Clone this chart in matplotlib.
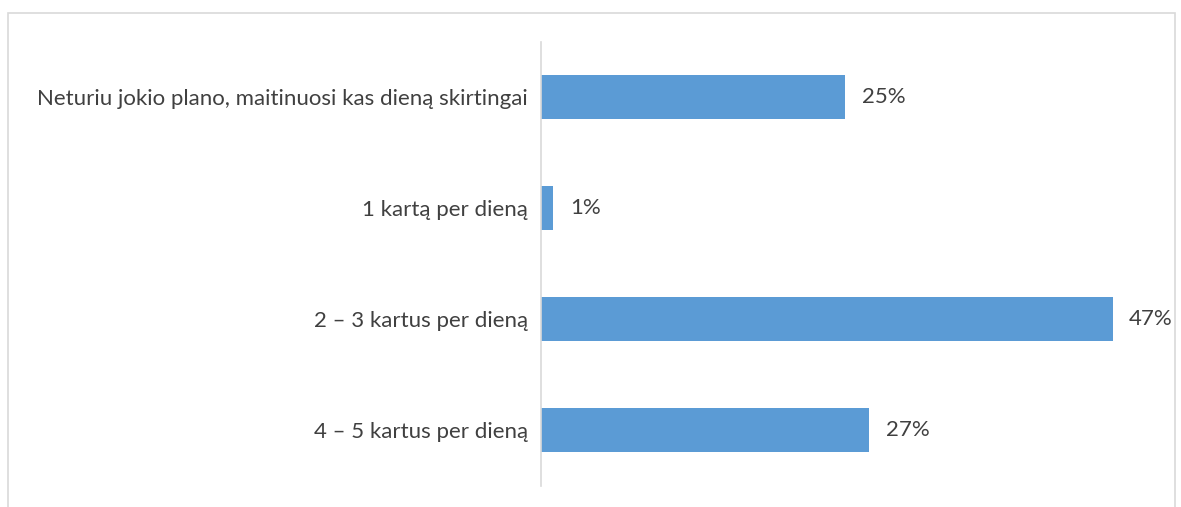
import matplotlib
matplotlib.use("Agg")
import matplotlib.pyplot as plt
from matplotlib.patches import Rectangle

categories = [
    "Neturiu jokio plano, maitinuosi kas dieną skirtingai",
    "1 kartą per dieną",
    "2 – 3 kartus per dieną",
    "4 – 5 kartus per dieną",
]
values = [25, 1, 47, 27]

plt.rcParams['font.family'] = ['Lato', 'DejaVu Sans']
W, H = 1181, 507
fig = plt.figure(figsize=(W / 100, H / 100), dpi=100)

# outer chart border (bottom edge cut off in reference)
fig.patches.append(Rectangle((7.5 / W, -0.05), 1167 / W, 1.05 - 12.5 / H,
                             transform=fig.transFigure, fill=False,
                             edgecolor='#d9d9d9', linewidth=1.2))

ax = fig.add_axes([541 / W, (H - 485.5) / H, 608 / W, 444 / H])
y = list(range(len(categories)))
ax.barh(y, values, height=0.4, color='#5b9bd5')
ax.set_xlim(0, 50)
ax.set_ylim(len(categories) - 0.5, -0.5)
ax.set_yticks(y)
ax.set_yticklabels(categories, fontsize=16, color='#404040')
ax.tick_params(axis='y', length=0, pad=9.5)
ax.set_xticks([])
for s in ['top', 'right', 'bottom']:
    ax.spines[s].set_visible(False)
ax.spines['left'].set_color('#d9d9d9')
ax.spines['left'].set_linewidth(1.2)

for yi, v in zip(y, values):
    ax.annotate(f"{v}%", (v, yi), xytext=(12, 0), textcoords='offset points',
                va='center', ha='left', fontsize=16, color='#404040')

fig.savefig("out.png", dpi=100)
